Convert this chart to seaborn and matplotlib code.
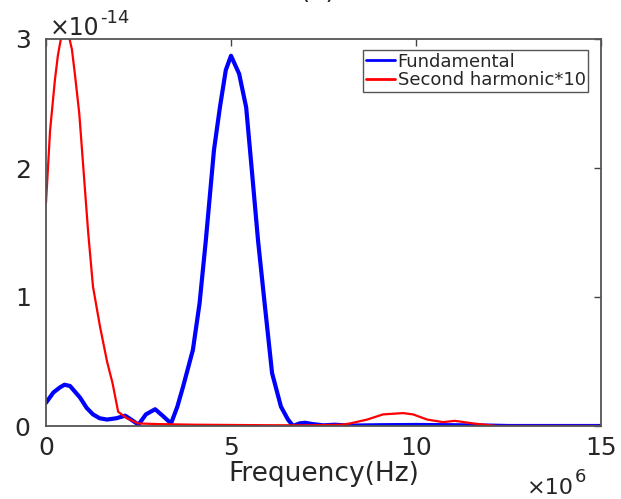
import matplotlib
matplotlib.use("Agg")
import matplotlib.pyplot as plt
import seaborn as sns
import pandas as pd

# Frequency in units of 1e6 Hz, amplitude in units of 1e-14
fund_freq = [0.0, 0.2, 0.38, 0.5, 0.65, 0.92, 1.1, 1.27, 1.45, 1.65, 1.9, 2.14, 2.3, 2.5,
             2.7, 2.95, 3.15, 3.38, 3.55, 3.7, 3.97, 4.15, 4.32, 4.54, 4.70, 4.86, 5.0,
             5.22, 5.41, 5.57, 5.73, 5.92, 6.11, 6.35, 6.54, 6.68, 6.85, 7.0, 7.2, 7.5,
             7.8, 8.2, 9.0, 10.0, 11.0, 12.0, 12.5, 15.0]
fund_amp = [0.18, 0.26, 0.30, 0.32, 0.31, 0.22, 0.14, 0.09, 0.06, 0.05, 0.06, 0.08, 0.05, 0.01,
            0.09, 0.13, 0.08, 0.02, 0.15, 0.30, 0.59, 0.95, 1.44, 2.14, 2.47, 2.76, 2.87,
            2.73, 2.47, 1.96, 1.44, 0.92, 0.41, 0.15, 0.05, 0.0, 0.02, 0.025, 0.015, 0.005,
            0.01, 0.003, 0.006, 0.008, 0.006, 0.003, 0.0, 0.0]

harm_freq = [0.0, 0.11, 0.24, 0.32, 0.42, 0.52, 0.62, 0.70, 0.78, 0.9, 1.02, 1.14, 1.27, 1.46,
             1.65, 1.80, 1.95, 2.19, 2.49, 3.0, 4.0, 5.0, 6.0, 7.0, 8.0, 8.22, 8.68, 9.11,
             9.65, 9.92, 10.3, 10.73, 11.05, 11.54, 12.19, 15.0]
harm_amp = [1.73, 2.29, 2.68, 2.87, 3.03, 3.06, 3.02, 2.92, 2.73, 2.42, 1.96, 1.50, 1.08, 0.77,
            0.50, 0.33, 0.11, 0.06, 0.02, 0.015, 0.01, 0.008, 0.006, 0.005, 0.01, 0.02, 0.05, 0.09,
            0.10, 0.09, 0.05, 0.03, 0.04, 0.02, 0.0, 0.0]

x_ticks = [0, 5, 10, 15]
y_ticks = [0, 1, 2, 3]
labels = ["Fundamental", "Second harmonic*10"]

sns.set_style("white")
plt.rcParams["font.family"] = ["DejaVu Sans"]

W, H = 621, 499
fig = plt.figure(figsize=(W / 100, H / 100), dpi=100)
ax = fig.add_axes([46 / W, 1 - 426 / H, 555 / W, 387 / H])

df_f = pd.DataFrame({"f": fund_freq, "a": fund_amp})
df_h = pd.DataFrame({"f": harm_freq, "a": harm_amp})
sns.lineplot(data=df_f, x="f", y="a", ax=ax, color="#0000ff", linewidth=3.0,
             label=labels[0], sort=False)
sns.lineplot(data=df_h, x="f", y="a", ax=ax, color="#ff0000", linewidth=1.6,
             label=labels[1], sort=False)

ax.set_xlim(0, 15)
ax.set_ylim(0, 3)
ax.set_xticks(x_ticks)
ax.set_yticks(y_ticks)
ax.set_xticklabels([str(t) for t in x_ticks])
ax.set_yticklabels([str(t) for t in y_ticks])
ax.tick_params(direction="in", length=5, width=1, colors="#444444",
               labelsize=18, labelcolor="#262626", top=True, right=True)
ax.tick_params(axis="x", pad=7)
ax.tick_params(axis="y", pad=11)
for s in ax.spines.values():
    s.set_color("#555555")
    s.set_linewidth(1.3)

ax.set_xlabel("Frequency(Hz)", fontsize=19, color="#262626", labelpad=1.0)
ax.set_ylabel("")

# axis multipliers
fig.text(50 / W, 1 - 35 / H, "\u00d710", fontsize=17, color="#262626",
         ha="left", va="baseline")
fig.text(100 / W, 1 - 23 / H, "-14", fontsize=13, color="#262626",
         ha="left", va="baseline")
fig.text(527 / W, 1 - 494 / H, "\u00d710", fontsize=16, color="#262626",
         ha="left", va="baseline")
fig.text(575 / W, 1 - 482 / H, "6", fontsize=13, color="#262626",
         ha="left", va="baseline")

fig.text(318 / W, 1 + 2 / H, "(a)", fontsize=19, ha="center", va="baseline",
         color="#262626")

leg = ax.legend(loc="upper right", bbox_to_anchor=(0.977, 0.972), fontsize=13,
                frameon=True, fancybox=False, edgecolor="#555555", framealpha=1,
                handlelength=1.6, handletextpad=0.15, labelspacing=0.05,
                borderpad=0.15, borderaxespad=0.0)
leg.get_frame().set_linewidth(1.0)
for line in leg.get_lines():
    line.set_linewidth(2.0)

fig.savefig("out.png", dpi=100)
